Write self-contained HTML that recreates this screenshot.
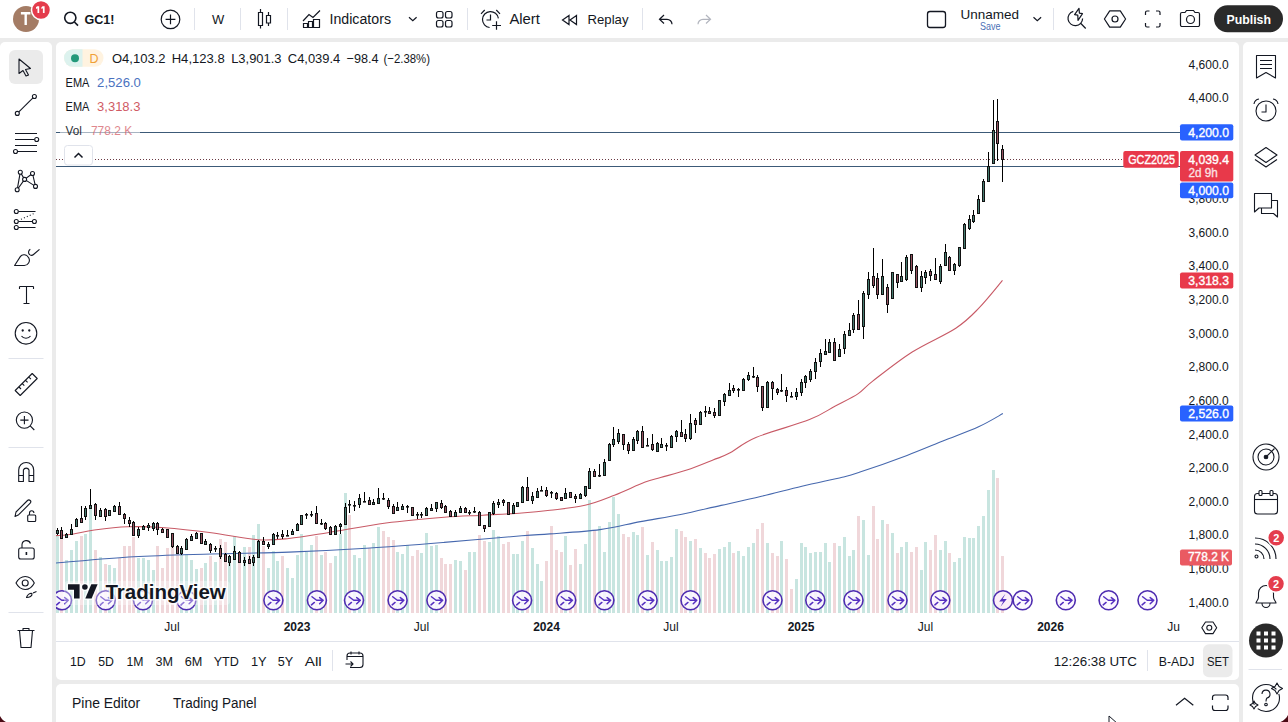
<!DOCTYPE html>
<html><head><meta charset="utf-8">
<style>
html,body{margin:0;padding:0;width:1288px;height:722px;overflow:hidden;background:#ebebeb;}
svg{display:block;font-family:"Liberation Sans",sans-serif;}
</style></head>
<body>
<svg width="1288" height="722" viewBox="0 0 1288 722">
<!-- panels -->
<rect x="0" y="0" width="1288" height="38" fill="#fff"/>
<rect x="0" y="42" width="52" height="690" rx="5" fill="#fff"/>
<rect x="56" y="42" width="1183" height="638" rx="5" fill="#fff"/>
<rect x="1243" y="42" width="55" height="690" rx="5" fill="#fff"/>
<rect x="56" y="684" width="1183" height="48" rx="5" fill="#fff"/>

<!-- TOP BAR -->
<g fill="none" stroke="#131722" stroke-width="1.2">
 <circle cx="26" cy="19" r="13" fill="#a47c65" stroke="none"/>
 <path d="M20.9,12.1 H30.4 V14.5 H26.9 V25 H24.5 V14.5 H20.9 Z" fill="#fff" stroke="none"/>
 <circle cx="41" cy="10" r="9.5" fill="#e43c4c" stroke="#fff" stroke-width="1.5"/>
 <path d="M37.2,6.3 H39.2 V13 H37.5 V8.3 L36,9 V7.3 Z M42.6,6.3 H44.6 V13 H42.9 V8.3 L41.4,9 V7.3 Z" fill="#fff" stroke="none"/>
 <circle cx="70.3" cy="17.8" r="5.6" stroke-width="1.6"/>
 <path d="M74.4,22 L78,25.6" stroke-width="1.6"/>
 <text x="84.5" y="23.6" font-size="13.5" font-weight="700" fill="#131722" stroke="none" textLength="30" lengthAdjust="spacingAndGlyphs">GC1!</text>
 <circle cx="170.5" cy="19.4" r="9.3"/>
 <path d="M170.5,14.5 V24.3 M165.6,19.4 H175.4"/>
 <text x="212" y="23.5" font-size="13" fill="#131722" stroke="none">W</text>
 <path d="M258.5,12.5 h4 v13 h-4 z M260.5,9 v3.5 M260.5,25.5 v3" />
 <path d="M266.5,15.5 h4 v7.5 h-4 z M268.5,12 v3.5 M268.5,23 v3" />
 <path d="M303,21 L309,14.5 L313,17.5 L320,10.5 M303,27.5 h17 M303.5,27.5 v-4 h4 v4 M308.5,27.5 v-6 h4 v6 M313.5,27.5 v-8 h6 v8"/>
 <text x="329.5" y="24" font-size="14" fill="#131722" stroke="none" textLength="61.5" lengthAdjust="spacingAndGlyphs">Indicators</text>
 <path d="M409,17.2 L412.8,20.6 L416.6,17.2"/>
 <rect x="436.5" y="11.5" width="6.5" height="6.5" rx="2"/>
 <rect x="445.5" y="11.5" width="6.5" height="6.5" rx="2"/>
 <rect x="436.5" y="20.5" width="6.5" height="6.5" rx="2"/>
 <rect x="445.5" y="20.5" width="6.5" height="6.5" rx="2"/>
 <path d="M498.4,18.3 A8,8 0 1 0 489.6,27.5 M490.5,14.5 V20 H486.5 M481,13.8 L484.7,10 M496.3,10 L500,13.8 M496.5,21.2 V29.8 M492.2,25.5 H501"/>
 <text x="509.4" y="24.3" font-size="14" fill="#131722" stroke="none" textLength="30.5" lengthAdjust="spacingAndGlyphs">Alert</text>
 <path d="M569,15.5 L562.5,20 L569,24.5 Z M576.5,15.5 L570,20 L576.5,24.5 Z"/>
 <text x="587.5" y="24.3" font-size="13.2" fill="#131722" stroke="none" textLength="41" lengthAdjust="spacingAndGlyphs">Replay</text>
 <path d="M664,15 L659.5,19.3 L664,23.5 M659.5,19.3 H667 A5,5 0 0 1 672,24.3" />
 <path d="M706,15 L710.5,19.3 L706,23.5 M710.5,19.3 H703 A5,5 0 0 0 698,24.3" stroke="#b2b5be"/>
 <rect x="927.5" y="11.5" width="18" height="16" rx="2.5" stroke-width="1.3"/>
 <text x="960.5" y="19" font-size="13.5" fill="#131722" stroke="none" textLength="58.5" lengthAdjust="spacingAndGlyphs">Unnamed</text>
 <text x="980" y="29.8" font-size="10.5" fill="#4a6fb5" stroke="none" textLength="20.5" lengthAdjust="spacingAndGlyphs">Save</text>
 <path d="M1033.5,17.2 L1037.3,20.6 L1041.1,17.2"/>
 <path d="M1073.3,11.3 A7.3,7.3 0 1 0 1082.6,18.4 M1080.9,23.5 L1085.7,28.5 M1079,8.3 L1074.6,14.6 L1077.8,15.2 L1078,20.3 L1082.5,13.7 L1079.4,13.1 Z" stroke-linejoin="round"/>
 <path d="M1109.7,10.8 h10.6 l5.3,8.2 l-5.3,8.2 h-10.6 l-5.3,-8.2 z" stroke-linejoin="round"/>
 <circle cx="1115" cy="19" r="3"/>
 <path d="M1145.5,15 v-2.5 a1.5,1.5 0 0 1 1.5,-1.5 h2.5 M1156,11 h2.5 a1.5,1.5 0 0 1 1.5,1.5 v2.5 M1160,23 v2.5 a1.5,1.5 0 0 1 -1.5,1.5 h-2.5 M1149.5,27 h-2.5 a1.5,1.5 0 0 1 -1.5,-1.5 v-2.5"/>
 <path d="M1180.5,14 a1.5,1.5 0 0 1 1.5,-1.5 h3 l1.5,-2 h7 l1.5,2 h3 a1.5,1.5 0 0 1 1.5,1.5 v11 a1.5,1.5 0 0 1 -1.5,1.5 h-16 a1.5,1.5 0 0 1 -1.5,-1.5 z"/>
 <circle cx="1190.5" cy="19.5" r="4"/>
 <rect x="1214" y="5.2" width="69" height="27" rx="13.5" fill="#2a2a2a" stroke="none"/>
 <text x="1226.5" y="24" font-size="13.5" font-weight="700" fill="#fff" stroke="none" textLength="44.5" lengthAdjust="spacingAndGlyphs">Publish</text>
</g>
<g stroke="#e0e3eb" stroke-width="1">
 <path d="M194.5,8 V30 M240.5,8 V30 M287.5,8 V30 M467.5,8 V30 M642.5,8 V30 M1053.5,8 V30"/>
</g>

<!-- LEFT TOOLBAR -->
<rect x="9" y="50" width="34" height="34" rx="6" fill="#ebebeb"/>
<g fill="none" stroke="#131722" stroke-width="1.1" stroke-linejoin="round">
 <path d="M19,59 L30.5,68.5 L25.5,69.5 L28.5,75 L26,76 L23,70.5 L19,73.5 Z"/>
 <path d="M18.6,112.2 L33.2,97.7"/><circle cx="17.3" cy="113.4" r="2" fill="#fff"/><circle cx="34.4" cy="96.5" r="2" fill="#fff"/>
 <path d="M15,133.5 H37 M15,139.5 H34.5 M15,145.5 H37 M17.5,151.5 H37"/><circle cx="36.7" cy="139.5" r="2" fill="#fff"/><circle cx="15.5" cy="151.5" r="2" fill="#fff"/>
 <path d="M17.2,189.7 L20.3,172.2 L24.6,179.4 L32.5,173.5 L35.5,186.4 L24.6,179.4 L17.2,189.7"/>
 <circle cx="20.3" cy="172.2" r="2" fill="#fff"/><circle cx="32.5" cy="173.5" r="2" fill="#fff"/><circle cx="24.6" cy="179.4" r="2" fill="#fff"/><circle cx="17.2" cy="189.7" r="2" fill="#fff"/><circle cx="35.5" cy="186.4" r="2" fill="#fff"/>
 <path d="M18.5,211.5 H35.5 M18.5,221.5 H32.5 M18.5,227.5 H35.5"/>
 <path d="M21,219.3 L34,213.5" stroke-dasharray="1,2.2"/>
 <circle cx="16.3" cy="211.5" r="2" fill="#fff"/><circle cx="16.3" cy="221.5" r="2" fill="#fff"/><circle cx="34.4" cy="221.5" r="2" fill="#fff"/><circle cx="16.3" cy="227.5" r="2" fill="#fff"/>
 <path d="M14.6,265.5 L20.3,256.6 C21.3,255 23,254.6 24.5,254.8 C28,255.3 30.8,259.5 28.6,263 C27.6,264.7 26,265.5 24.3,265.5 Z M30.3,249.3 C28.3,250.5 28,253 29.5,254.5 C30.5,255.6 32.3,255.7 33.5,254.5 L39.5,249.3"/>
 <path d="M19.5,286.5 H33.5 M19.5,286.5 V289 M33.5,286.5 V289 M26.5,286.5 V303.5 M23.5,303.5 H29.5"/>
 <circle cx="26" cy="333.3" r="10.8"/>
 <path d="M21.5,336 C23.5,339 28.5,339 30.5,336"/><circle cx="22.7" cy="330.5" r="0.6" fill="#131722"/><circle cx="29.3" cy="330.5" r="0.6" fill="#131722"/>
 <path d="M15.2,390.5 L32.2,373.5 L37.2,378.5 L20.2,395.5 Z M19,387 l2,2 M22.3,383.7 l2,2 M25.6,380.4 l2,2 M28.9,377.1 l2,2"/>
 <circle cx="24.4" cy="420.1" r="8.1"/><path d="M30.2,425.9 L34.3,430 M24.4,416 V424.2 M20.3,420.1 H28.5"/>
 <path d="M18.7,481.5 V470 A7.5,7.5 0 0 1 33.7,470 V481.5 H29 V470 A3,3 0 0 0 23.4,470 V481.5 Z M18.7,475.5 H23.4 M29,475.5 H33.7"/>
 <path d="M16,512 L27.5,500.5 A1.8,1.8 0 0 1 30.2,503.2 L18.7,514.7 L15,516.5 Z"/>
 <rect x="27.7" y="515" width="8" height="6.5" rx="1"/><path d="M29.5,515 V513 A2.2,2.2 0 0 1 33.9,513"/>
 <rect x="18.7" y="548" width="15.5" height="11" rx="2"/><path d="M22,548 V544.5 A4.4,4.4 0 0 1 30.5,543.5"/><path d="M26.4,552 V555" stroke-width="1.6"/>
 <path d="M16,583 C19,577.5 23,576.5 25.2,576.5 C27.5,576.5 31.5,577.5 34.3,583 C31.5,588.5 27.5,589.5 25.2,589.5 C23,589.5 19,588.5 16,583 Z"/><circle cx="25.2" cy="583" r="3"/>
 <path d="M26.5,597.5 C27.5,594.5 30,593 32,593.5 C32.5,596 29.5,597.5 26.5,597.5 Z M33,593 L36.5,591.5"/>
 <path d="M17.5,630.5 H34.5 M23,630.5 V628.5 H29 V630.5 M19.5,630.5 L21,647.5 H31 L32.5,630.5"/>
</g>
<g stroke="#e0e3eb"><path d="M8.5,358.5 H43.5 M8.5,447.5 H43.5 M8.5,612.5 H43.5"/></g>

<!-- RIGHT TOOLBAR -->
<g fill="none" stroke="#131722" stroke-width="1.1" stroke-linejoin="round">
 <path d="M1256.5,55.5 H1275.5 V78 L1266,72.5 L1256.5,78 Z M1260,60.5 H1272 M1260,64.5 H1272 M1260,68.5 H1272"/>
 <circle cx="1266" cy="111" r="10"/><path d="M1266,104.5 V112 H1261.5 M1254,104 A6,6 0 0 1 1259,99 M1273,99 A6,6 0 0 1 1278,104"/>
 <path d="M1266,147.5 L1277,155 L1266,162.5 L1255,155 Z M1255,159.5 L1266,167 L1277,159.5"/>
 <path d="M1254.5,193.5 H1271.5 V208 H1259 L1254.5,212 Z M1271.5,200.5 H1277.5 V217 L1273.5,213.5 H1261.5 V208"/>
 <circle cx="1266" cy="457" r="13"/><circle cx="1266" cy="457" r="8"/><circle cx="1266" cy="457" r="1.8" fill="#131722"/><path d="M1266,457 L1274.5,448.5"/>
 <rect x="1254.5" y="493.5" width="23" height="20.5" rx="3"/><path d="M1254.5,499.5 H1277.5"/><rect x="1259" y="490.5" width="3" height="5" rx="1" fill="#fff"/><rect x="1270" y="490.5" width="3" height="5" rx="1" fill="#fff"/>
 <circle cx="1256.5" cy="556.5" r="1.5"/><path d="M1255,550 A9,9 0 0 1 1264,559 M1255,544 A15,15 0 0 1 1270,559 M1255,538 A21,21 0 0 1 1276,559"/>
 <path d="M1256,603 H1276 C1276,601.5 1273.5,600 1273.5,597 V593 A7.5,7.5 0 0 0 1258.5,593 V597 C1258.5,600 1256,601.5 1256,603 Z M1262,603.5 A4,4 0 0 0 1270,603.5"/>
 <circle cx="1266" cy="698" r="13.5" stroke-dasharray="30,5,40,5,20"/>
 <path d="M1262,694 A4,4 0 1 1 1267,698 C1266,699 1266,700 1266,701.5"/><circle cx="1266" cy="704.5" r="1.3"/>
 <path d="M1277,683 l2,3.5 l3.5,2 l-3.5,2 l-2,3.5 l-2,-3.5 l-3.5,-2 l3.5,-2 z M1254,701 l1.5,2.5 l2.5,1.5 l-2.5,1.5 l-1.5,2.5 l-1.5,-2.5 l-2.5,-1.5 l2.5,-1.5 z"/>
</g>
<g fill="#e43c4c" stroke="#fff" stroke-width="1.5"><circle cx="1276.2" cy="537.7" r="8.5"/><circle cx="1276" cy="583.7" r="8.5"/></g>
<g fill="#fff" font-size="11" font-weight="700" text-anchor="middle"><text x="1276.2" y="541.7">2</text><text x="1276" y="587.7">2</text></g>
<circle cx="1266" cy="640.5" r="17" fill="#2a2a2a"/>
<g fill="#fff">
 <rect x="1256.5" y="631.5" width="4" height="4"/><rect x="1264" y="631.5" width="4" height="4"/><rect x="1271.5" y="631.5" width="4" height="4"/>
 <rect x="1256.5" y="638.5" width="4" height="4"/><rect x="1264" y="638.5" width="4" height="4"/><rect x="1271.5" y="638.5" width="4" height="4"/>
 <rect x="1256.5" y="645.5" width="4" height="4"/><rect x="1264" y="645.5" width="4" height="4"/><rect x="1271.5" y="645.5" width="4" height="4"/>
</g>
<path d="M1248.5,669.5 H1282" stroke="#e0e3eb"/>
<path d="M1288,715 C1286.5,718 1284,720.5 1280.5,722 H1288 Z" fill="#4a0a14"/>
<path d="M0,716 C1.5,719 3.5,721 6,722 H0 Z" fill="#4a0a14"/>

<!-- CHART -->
<defs><clipPath id="cp"><rect x="56" y="42" width="1124" height="572"/></clipPath></defs>
<g clip-path="url(#cp)">
<rect x="56" y="536" width="3" height="77" fill="#c8e5e0"/>
<rect x="60" y="538" width="3" height="75" fill="#f0d7da"/>
<rect x="65" y="560" width="3" height="53" fill="#c8e5e0"/>
<rect x="70" y="550" width="3" height="63" fill="#c8e5e0"/>
<rect x="75" y="541" width="3" height="72" fill="#c8e5e0"/>
<rect x="80" y="536" width="3" height="77" fill="#f0d7da"/>
<rect x="84" y="534" width="3" height="79" fill="#c8e5e0"/>
<rect x="89" y="509" width="3" height="104" fill="#c8e5e0"/>
<rect x="94" y="550" width="3" height="63" fill="#f0d7da"/>
<rect x="99" y="557" width="3" height="56" fill="#c8e5e0"/>
<rect x="104" y="564" width="3" height="49" fill="#f0d7da"/>
<rect x="108" y="565" width="3" height="48" fill="#c8e5e0"/>
<rect x="113" y="568" width="3" height="45" fill="#c8e5e0"/>
<rect x="118" y="558" width="3" height="55" fill="#f0d7da"/>
<rect x="123" y="546" width="3" height="67" fill="#f0d7da"/>
<rect x="128" y="546" width="3" height="67" fill="#f0d7da"/>
<rect x="132" y="537" width="3" height="76" fill="#f0d7da"/>
<rect x="137" y="558" width="3" height="55" fill="#c8e5e0"/>
<rect x="142" y="558" width="3" height="55" fill="#c8e5e0"/>
<rect x="147" y="560" width="3" height="53" fill="#c8e5e0"/>
<rect x="152" y="570" width="3" height="43" fill="#c8e5e0"/>
<rect x="156" y="546" width="3" height="67" fill="#f0d7da"/>
<rect x="161" y="568" width="3" height="45" fill="#f0d7da"/>
<rect x="166" y="548" width="3" height="65" fill="#f0d7da"/>
<rect x="171" y="533" width="3" height="80" fill="#f0d7da"/>
<rect x="176" y="554" width="3" height="59" fill="#f0d7da"/>
<rect x="180" y="554" width="3" height="59" fill="#c8e5e0"/>
<rect x="185" y="554" width="3" height="59" fill="#c8e5e0"/>
<rect x="190" y="560" width="3" height="53" fill="#c8e5e0"/>
<rect x="195" y="569" width="3" height="44" fill="#c8e5e0"/>
<rect x="200" y="568" width="3" height="45" fill="#f0d7da"/>
<rect x="204" y="563" width="3" height="50" fill="#c8e5e0"/>
<rect x="209" y="556" width="3" height="57" fill="#f0d7da"/>
<rect x="214" y="562" width="3" height="51" fill="#c8e5e0"/>
<rect x="219" y="539" width="3" height="74" fill="#f0d7da"/>
<rect x="224" y="542" width="3" height="71" fill="#f0d7da"/>
<rect x="228" y="562" width="3" height="51" fill="#c8e5e0"/>
<rect x="233" y="536" width="3" height="77" fill="#c8e5e0"/>
<rect x="238" y="552" width="3" height="61" fill="#f0d7da"/>
<rect x="243" y="547" width="3" height="66" fill="#c8e5e0"/>
<rect x="248" y="547" width="3" height="66" fill="#f0d7da"/>
<rect x="252" y="535" width="3" height="78" fill="#c8e5e0"/>
<rect x="257" y="524" width="3" height="89" fill="#c8e5e0"/>
<rect x="262" y="546" width="3" height="67" fill="#f0d7da"/>
<rect x="267" y="568" width="3" height="45" fill="#c8e5e0"/>
<rect x="272" y="551" width="3" height="62" fill="#c8e5e0"/>
<rect x="276" y="561" width="3" height="52" fill="#c8e5e0"/>
<rect x="281" y="556" width="3" height="57" fill="#f0d7da"/>
<rect x="286" y="568" width="3" height="45" fill="#c8e5e0"/>
<rect x="291" y="578" width="3" height="35" fill="#c8e5e0"/>
<rect x="296" y="555" width="3" height="58" fill="#c8e5e0"/>
<rect x="300" y="534" width="3" height="79" fill="#c8e5e0"/>
<rect x="305" y="552" width="3" height="61" fill="#c8e5e0"/>
<rect x="310" y="545" width="3" height="68" fill="#c8e5e0"/>
<rect x="315" y="536" width="3" height="77" fill="#f0d7da"/>
<rect x="320" y="555" width="3" height="58" fill="#c8e5e0"/>
<rect x="324" y="552" width="3" height="61" fill="#f0d7da"/>
<rect x="329" y="563" width="3" height="50" fill="#f0d7da"/>
<rect x="334" y="556" width="3" height="57" fill="#c8e5e0"/>
<rect x="339" y="534" width="3" height="79" fill="#c8e5e0"/>
<rect x="344" y="493" width="3" height="120" fill="#c8e5e0"/>
<rect x="348" y="515" width="3" height="98" fill="#f0d7da"/>
<rect x="353" y="555" width="3" height="58" fill="#c8e5e0"/>
<rect x="358" y="558" width="3" height="55" fill="#c8e5e0"/>
<rect x="363" y="545" width="3" height="68" fill="#c8e5e0"/>
<rect x="368" y="548" width="3" height="65" fill="#f0d7da"/>
<rect x="372" y="543" width="3" height="70" fill="#c8e5e0"/>
<rect x="377" y="527" width="3" height="86" fill="#c8e5e0"/>
<rect x="382" y="531" width="3" height="82" fill="#f0d7da"/>
<rect x="387" y="537" width="3" height="76" fill="#f0d7da"/>
<rect x="392" y="540" width="3" height="73" fill="#f0d7da"/>
<rect x="396" y="552" width="3" height="61" fill="#c8e5e0"/>
<rect x="401" y="554" width="3" height="59" fill="#c8e5e0"/>
<rect x="406" y="545" width="3" height="68" fill="#c8e5e0"/>
<rect x="411" y="556" width="3" height="57" fill="#f0d7da"/>
<rect x="416" y="550" width="3" height="63" fill="#f0d7da"/>
<rect x="420" y="553" width="3" height="60" fill="#c8e5e0"/>
<rect x="425" y="533" width="3" height="80" fill="#c8e5e0"/>
<rect x="430" y="546" width="3" height="67" fill="#c8e5e0"/>
<rect x="435" y="545" width="3" height="68" fill="#c8e5e0"/>
<rect x="440" y="558" width="3" height="55" fill="#f0d7da"/>
<rect x="444" y="564" width="3" height="49" fill="#f0d7da"/>
<rect x="449" y="564" width="3" height="49" fill="#f0d7da"/>
<rect x="454" y="560" width="3" height="53" fill="#c8e5e0"/>
<rect x="459" y="561" width="3" height="52" fill="#c8e5e0"/>
<rect x="464" y="570" width="3" height="43" fill="#f0d7da"/>
<rect x="468" y="552" width="3" height="61" fill="#c8e5e0"/>
<rect x="473" y="552" width="3" height="61" fill="#c8e5e0"/>
<rect x="478" y="535" width="3" height="78" fill="#f0d7da"/>
<rect x="483" y="541" width="3" height="72" fill="#f0d7da"/>
<rect x="488" y="542" width="3" height="71" fill="#c8e5e0"/>
<rect x="492" y="530" width="3" height="83" fill="#c8e5e0"/>
<rect x="497" y="536" width="3" height="77" fill="#c8e5e0"/>
<rect x="502" y="544" width="3" height="69" fill="#f0d7da"/>
<rect x="507" y="542" width="3" height="71" fill="#f0d7da"/>
<rect x="512" y="554" width="3" height="59" fill="#c8e5e0"/>
<rect x="516" y="554" width="3" height="59" fill="#c8e5e0"/>
<rect x="521" y="541" width="3" height="72" fill="#c8e5e0"/>
<rect x="526" y="531" width="3" height="82" fill="#f0d7da"/>
<rect x="531" y="548" width="3" height="65" fill="#c8e5e0"/>
<rect x="536" y="564" width="3" height="49" fill="#c8e5e0"/>
<rect x="540" y="581" width="3" height="32" fill="#c8e5e0"/>
<rect x="545" y="561" width="3" height="52" fill="#f0d7da"/>
<rect x="550" y="526" width="3" height="87" fill="#f0d7da"/>
<rect x="555" y="550" width="3" height="63" fill="#f0d7da"/>
<rect x="560" y="552" width="3" height="61" fill="#f0d7da"/>
<rect x="564" y="536" width="3" height="77" fill="#c8e5e0"/>
<rect x="569" y="565" width="3" height="48" fill="#f0d7da"/>
<rect x="574" y="549" width="3" height="64" fill="#f0d7da"/>
<rect x="579" y="564" width="3" height="49" fill="#c8e5e0"/>
<rect x="584" y="544" width="3" height="69" fill="#c8e5e0"/>
<rect x="588" y="500" width="3" height="113" fill="#c8e5e0"/>
<rect x="593" y="530" width="3" height="83" fill="#f0d7da"/>
<rect x="598" y="526" width="3" height="87" fill="#c8e5e0"/>
<rect x="603" y="552" width="3" height="61" fill="#c8e5e0"/>
<rect x="608" y="522" width="3" height="91" fill="#c8e5e0"/>
<rect x="612" y="497" width="3" height="116" fill="#c8e5e0"/>
<rect x="617" y="514" width="3" height="99" fill="#c8e5e0"/>
<rect x="622" y="534" width="3" height="79" fill="#f0d7da"/>
<rect x="627" y="537" width="3" height="76" fill="#f0d7da"/>
<rect x="632" y="532" width="3" height="81" fill="#c8e5e0"/>
<rect x="636" y="535" width="3" height="78" fill="#c8e5e0"/>
<rect x="641" y="527" width="3" height="86" fill="#f0d7da"/>
<rect x="646" y="555" width="3" height="58" fill="#c8e5e0"/>
<rect x="651" y="542" width="3" height="71" fill="#f0d7da"/>
<rect x="656" y="550" width="3" height="63" fill="#c8e5e0"/>
<rect x="660" y="561" width="3" height="52" fill="#c8e5e0"/>
<rect x="665" y="561" width="3" height="52" fill="#c8e5e0"/>
<rect x="670" y="557" width="3" height="56" fill="#c8e5e0"/>
<rect x="675" y="529" width="3" height="84" fill="#c8e5e0"/>
<rect x="680" y="531" width="3" height="82" fill="#f0d7da"/>
<rect x="684" y="537" width="3" height="76" fill="#f0d7da"/>
<rect x="689" y="541" width="3" height="72" fill="#c8e5e0"/>
<rect x="694" y="539" width="3" height="74" fill="#f0d7da"/>
<rect x="699" y="548" width="3" height="65" fill="#c8e5e0"/>
<rect x="704" y="553" width="3" height="60" fill="#f0d7da"/>
<rect x="708" y="558" width="3" height="55" fill="#f0d7da"/>
<rect x="713" y="554" width="3" height="59" fill="#f0d7da"/>
<rect x="718" y="549" width="3" height="64" fill="#c8e5e0"/>
<rect x="723" y="547" width="3" height="66" fill="#c8e5e0"/>
<rect x="728" y="542" width="3" height="71" fill="#c8e5e0"/>
<rect x="732" y="553" width="3" height="60" fill="#f0d7da"/>
<rect x="737" y="551" width="3" height="62" fill="#c8e5e0"/>
<rect x="742" y="556" width="3" height="57" fill="#c8e5e0"/>
<rect x="747" y="547" width="3" height="66" fill="#c8e5e0"/>
<rect x="752" y="543" width="3" height="70" fill="#c8e5e0"/>
<rect x="756" y="529" width="3" height="84" fill="#f0d7da"/>
<rect x="761" y="523" width="3" height="90" fill="#f0d7da"/>
<rect x="766" y="543" width="3" height="70" fill="#c8e5e0"/>
<rect x="771" y="553" width="3" height="60" fill="#f0d7da"/>
<rect x="776" y="556" width="3" height="57" fill="#f0d7da"/>
<rect x="780" y="541" width="3" height="72" fill="#c8e5e0"/>
<rect x="785" y="559" width="3" height="54" fill="#f0d7da"/>
<rect x="790" y="589" width="3" height="24" fill="#f0d7da"/>
<rect x="795" y="579" width="3" height="34" fill="#c8e5e0"/>
<rect x="800" y="543" width="3" height="70" fill="#c8e5e0"/>
<rect x="804" y="547" width="3" height="66" fill="#c8e5e0"/>
<rect x="809" y="553" width="3" height="60" fill="#c8e5e0"/>
<rect x="814" y="552" width="3" height="61" fill="#c8e5e0"/>
<rect x="819" y="552" width="3" height="61" fill="#c8e5e0"/>
<rect x="824" y="543" width="3" height="70" fill="#c8e5e0"/>
<rect x="828" y="562" width="3" height="51" fill="#c8e5e0"/>
<rect x="833" y="543" width="3" height="70" fill="#f0d7da"/>
<rect x="838" y="546" width="3" height="67" fill="#c8e5e0"/>
<rect x="843" y="537" width="3" height="76" fill="#c8e5e0"/>
<rect x="848" y="556" width="3" height="57" fill="#c8e5e0"/>
<rect x="852" y="550" width="3" height="63" fill="#c8e5e0"/>
<rect x="857" y="516" width="3" height="97" fill="#f0d7da"/>
<rect x="862" y="520" width="3" height="93" fill="#c8e5e0"/>
<rect x="867" y="555" width="3" height="58" fill="#c8e5e0"/>
<rect x="872" y="506" width="3" height="107" fill="#f0d7da"/>
<rect x="876" y="539" width="3" height="74" fill="#f0d7da"/>
<rect x="881" y="520" width="3" height="93" fill="#c8e5e0"/>
<rect x="886" y="524" width="3" height="89" fill="#f0d7da"/>
<rect x="891" y="533" width="3" height="80" fill="#c8e5e0"/>
<rect x="896" y="553" width="3" height="60" fill="#f0d7da"/>
<rect x="900" y="547" width="3" height="66" fill="#c8e5e0"/>
<rect x="905" y="542" width="3" height="71" fill="#c8e5e0"/>
<rect x="910" y="552" width="3" height="61" fill="#f0d7da"/>
<rect x="915" y="547" width="3" height="66" fill="#f0d7da"/>
<rect x="920" y="570" width="3" height="43" fill="#c8e5e0"/>
<rect x="924" y="542" width="3" height="71" fill="#c8e5e0"/>
<rect x="929" y="550" width="3" height="63" fill="#f0d7da"/>
<rect x="934" y="535" width="3" height="78" fill="#f0d7da"/>
<rect x="939" y="550" width="3" height="63" fill="#c8e5e0"/>
<rect x="944" y="541" width="3" height="72" fill="#c8e5e0"/>
<rect x="948" y="553" width="3" height="60" fill="#f0d7da"/>
<rect x="953" y="562" width="3" height="51" fill="#c8e5e0"/>
<rect x="958" y="558" width="3" height="55" fill="#c8e5e0"/>
<rect x="963" y="537" width="3" height="76" fill="#c8e5e0"/>
<rect x="968" y="538" width="3" height="75" fill="#c8e5e0"/>
<rect x="972" y="538" width="3" height="75" fill="#c8e5e0"/>
<rect x="977" y="526" width="3" height="87" fill="#c8e5e0"/>
<rect x="982" y="516" width="3" height="97" fill="#c8e5e0"/>
<rect x="987" y="490" width="3" height="123" fill="#c8e5e0"/>
<rect x="992" y="470" width="3" height="143" fill="#c8e5e0"/>
<rect x="996" y="478" width="3" height="135" fill="#f0d7da"/>
<rect x="1001" y="556" width="3" height="57" fill="#f0d7da"/>
<line x1="56" y1="132.5" x2="1180" y2="132.5" stroke="#3c5a78" stroke-width="1"/>
<line x1="56" y1="166.5" x2="1180" y2="166.5" stroke="#3c5a78" stroke-width="1"/>
<line x1="56" y1="159.5" x2="1123" y2="159.5" stroke="#6b3a44" stroke-width="1" stroke-dasharray="1,2"/>
<path d="M56.0,535.6 C58.7,535.4 65.8,535.2 72.2,534.3 C78.6,533.4 85.1,531.2 94.3,530.0 C103.5,528.8 115.9,527.2 127.6,526.8 C139.3,526.4 150.8,526.7 164.7,527.7 C178.6,528.7 195.8,530.7 211.3,532.7 C226.8,534.7 245.0,538.7 257.9,539.7 C270.8,540.7 277.3,539.7 288.9,538.5 C300.5,537.3 311.5,535.3 327.7,532.7 C343.9,530.1 366.6,525.6 386.0,523.0 C405.4,520.4 428.0,518.5 444.2,517.2 C460.4,515.9 470.1,515.9 483.0,515.2 C495.9,514.5 510.6,513.8 521.8,513.0 C533.0,512.2 539.5,511.6 550.0,510.3 C560.5,509.0 574.3,507.8 585.0,505.3 C595.7,502.8 604.5,499.0 614.4,495.2 C624.3,491.4 636.8,485.2 644.5,482.3 C652.2,479.4 653.6,479.5 660.6,477.5 C667.6,475.5 678.1,473.0 686.8,470.1 C695.5,467.2 706.0,462.8 713.0,460.0 C720.0,457.2 721.5,457.4 728.6,453.6 C735.8,449.9 742.4,443.2 755.9,437.5 C769.4,431.8 796.3,424.9 809.5,419.6 C822.7,414.4 827.2,410.3 835.3,406.0 C843.4,401.7 852.0,397.8 858.2,393.6 C864.4,389.5 863.7,388.0 872.7,381.1 C881.7,374.2 898.4,360.8 912.2,352.0 C926.1,343.2 944.7,335.5 955.8,328.2 C966.9,320.9 970.8,316.4 978.6,308.4 C986.4,300.4 998.5,285.1 1002.5,280.4" fill="none" stroke="#c85a66" stroke-width="1.1"/>
<path d="M56.0,563.0 C68.9,562.0 107.7,558.3 133.6,556.8 C159.5,555.3 185.4,554.8 211.3,554.0 C237.2,553.2 263.0,553.1 288.9,552.1 C314.8,551.1 340.7,549.8 366.6,548.2 C392.5,546.6 418.3,544.5 444.2,542.4 C470.1,540.3 504.2,537.2 521.8,535.8 C539.4,534.4 537.0,534.9 550.0,533.9 C563.0,532.9 584.9,531.6 600.0,529.6 C615.1,527.6 626.9,524.1 640.4,521.6 C653.9,519.1 667.2,517.2 680.7,514.5 C694.2,511.8 707.6,508.4 721.1,505.4 C734.6,502.4 748.0,499.5 761.5,496.3 C775.0,493.1 788.4,489.4 801.9,486.2 C815.4,483.0 832.5,479.5 842.2,477.2 C851.9,474.9 849.2,475.7 860.0,472.1 C870.8,468.5 893.2,460.6 907.0,455.4 C920.8,450.2 931.0,445.8 942.9,441.0 C954.8,436.2 968.6,431.4 978.6,426.8 C988.6,422.2 998.9,415.8 1002.9,413.6" fill="none" stroke="#4668ae" stroke-width="1.1"/>
<rect x="57" y="528" width="1" height="7" fill="#000"/>
<rect x="56" y="530" width="3" height="4" fill="#111"/>
<rect x="57" y="531" width="1" height="2" fill="#457a6e"/>
<rect x="61" y="527" width="1" height="11" fill="#000"/>
<rect x="60" y="530" width="3" height="9" fill="#111"/>
<rect x="61" y="531" width="1" height="7" fill="#955060"/>
<rect x="66" y="533" width="1" height="5" fill="#000"/>
<rect x="65" y="534" width="3" height="4" fill="#111"/>
<rect x="66" y="535" width="1" height="2" fill="#457a6e"/>
<rect x="71" y="524" width="1" height="11" fill="#000"/>
<rect x="70" y="529" width="3" height="6" fill="#111"/>
<rect x="71" y="530" width="1" height="4" fill="#457a6e"/>
<rect x="76" y="518" width="1" height="9" fill="#000"/>
<rect x="75" y="519" width="3" height="8" fill="#111"/>
<rect x="76" y="520" width="1" height="6" fill="#457a6e"/>
<rect x="81" y="506" width="1" height="17" fill="#000"/>
<rect x="80" y="518" width="3" height="5" fill="#111"/>
<rect x="81" y="519" width="1" height="3" fill="#955060"/>
<rect x="85" y="506" width="1" height="14" fill="#000"/>
<rect x="84" y="508" width="3" height="9" fill="#111"/>
<rect x="85" y="509" width="1" height="7" fill="#457a6e"/>
<rect x="90" y="489" width="1" height="19" fill="#000"/>
<rect x="89" y="505" width="3" height="4" fill="#111"/>
<rect x="90" y="506" width="1" height="2" fill="#457a6e"/>
<rect x="95" y="503" width="1" height="17" fill="#000"/>
<rect x="94" y="504" width="3" height="12" fill="#111"/>
<rect x="95" y="505" width="1" height="10" fill="#955060"/>
<rect x="100" y="508" width="1" height="8" fill="#000"/>
<rect x="99" y="510" width="3" height="7" fill="#111"/>
<rect x="100" y="511" width="1" height="5" fill="#457a6e"/>
<rect x="105" y="508" width="1" height="13" fill="#000"/>
<rect x="104" y="509" width="3" height="8" fill="#111"/>
<rect x="105" y="510" width="1" height="6" fill="#955060"/>
<rect x="109" y="510" width="1" height="6" fill="#000"/>
<rect x="108" y="510" width="3" height="6" fill="#111"/>
<rect x="109" y="511" width="1" height="4" fill="#457a6e"/>
<rect x="114" y="505" width="1" height="7" fill="#000"/>
<rect x="113" y="506" width="3" height="6" fill="#111"/>
<rect x="114" y="507" width="1" height="4" fill="#457a6e"/>
<rect x="119" y="502" width="1" height="12" fill="#000"/>
<rect x="118" y="506" width="3" height="9" fill="#111"/>
<rect x="119" y="507" width="1" height="7" fill="#955060"/>
<rect x="124" y="513" width="1" height="11" fill="#000"/>
<rect x="123" y="514" width="3" height="5" fill="#111"/>
<rect x="124" y="515" width="1" height="3" fill="#955060"/>
<rect x="129" y="517" width="1" height="10" fill="#000"/>
<rect x="128" y="520" width="3" height="4" fill="#111"/>
<rect x="129" y="521" width="1" height="2" fill="#955060"/>
<rect x="133" y="521" width="1" height="14" fill="#000"/>
<rect x="132" y="522" width="3" height="14" fill="#111"/>
<rect x="133" y="523" width="1" height="12" fill="#955060"/>
<rect x="138" y="527" width="1" height="11" fill="#000"/>
<rect x="137" y="529" width="3" height="7" fill="#111"/>
<rect x="138" y="530" width="1" height="5" fill="#457a6e"/>
<rect x="143" y="525" width="1" height="5" fill="#000"/>
<rect x="142" y="526" width="3" height="4" fill="#111"/>
<rect x="143" y="527" width="1" height="2" fill="#457a6e"/>
<rect x="148" y="523" width="1" height="8" fill="#000"/>
<rect x="147" y="525" width="3" height="3" fill="#111"/>
<rect x="148" y="526" width="1" height="1" fill="#457a6e"/>
<rect x="153" y="522" width="1" height="9" fill="#000"/>
<rect x="152" y="523" width="3" height="6" fill="#111"/>
<rect x="153" y="524" width="1" height="4" fill="#457a6e"/>
<rect x="157" y="522" width="1" height="13" fill="#000"/>
<rect x="156" y="523" width="3" height="7" fill="#111"/>
<rect x="157" y="524" width="1" height="5" fill="#955060"/>
<rect x="162" y="528" width="1" height="5" fill="#000"/>
<rect x="161" y="529" width="3" height="4" fill="#111"/>
<rect x="162" y="530" width="1" height="2" fill="#955060"/>
<rect x="167" y="529" width="1" height="9" fill="#000"/>
<rect x="166" y="529" width="3" height="9" fill="#111"/>
<rect x="167" y="530" width="1" height="7" fill="#955060"/>
<rect x="172" y="533" width="1" height="15" fill="#000"/>
<rect x="171" y="533" width="3" height="14" fill="#111"/>
<rect x="172" y="534" width="1" height="12" fill="#955060"/>
<rect x="177" y="545" width="1" height="8" fill="#000"/>
<rect x="176" y="546" width="3" height="8" fill="#111"/>
<rect x="177" y="547" width="1" height="6" fill="#955060"/>
<rect x="181" y="546" width="1" height="9" fill="#000"/>
<rect x="180" y="548" width="3" height="6" fill="#111"/>
<rect x="181" y="549" width="1" height="4" fill="#457a6e"/>
<rect x="186" y="538" width="1" height="12" fill="#000"/>
<rect x="185" y="539" width="3" height="11" fill="#111"/>
<rect x="186" y="540" width="1" height="9" fill="#457a6e"/>
<rect x="191" y="534" width="1" height="6" fill="#000"/>
<rect x="190" y="536" width="3" height="5" fill="#111"/>
<rect x="191" y="537" width="1" height="3" fill="#457a6e"/>
<rect x="196" y="532" width="1" height="6" fill="#000"/>
<rect x="195" y="533" width="3" height="6" fill="#111"/>
<rect x="196" y="534" width="1" height="4" fill="#457a6e"/>
<rect x="201" y="533" width="1" height="10" fill="#000"/>
<rect x="200" y="533" width="3" height="11" fill="#111"/>
<rect x="201" y="534" width="1" height="9" fill="#955060"/>
<rect x="205" y="539" width="1" height="6" fill="#000"/>
<rect x="204" y="541" width="3" height="4" fill="#111"/>
<rect x="205" y="542" width="1" height="2" fill="#457a6e"/>
<rect x="210" y="543" width="1" height="10" fill="#000"/>
<rect x="209" y="544" width="3" height="7" fill="#111"/>
<rect x="210" y="545" width="1" height="5" fill="#955060"/>
<rect x="215" y="546" width="1" height="6" fill="#000"/>
<rect x="214" y="548" width="3" height="1.6" fill="#111"/>
<rect x="220" y="545" width="1" height="14" fill="#000"/>
<rect x="219" y="548" width="3" height="9" fill="#111"/>
<rect x="220" y="549" width="1" height="7" fill="#955060"/>
<rect x="225" y="553" width="1" height="9" fill="#000"/>
<rect x="224" y="554" width="3" height="8" fill="#111"/>
<rect x="225" y="555" width="1" height="6" fill="#955060"/>
<rect x="229" y="555" width="1" height="11" fill="#000"/>
<rect x="228" y="556" width="3" height="7" fill="#111"/>
<rect x="229" y="557" width="1" height="5" fill="#457a6e"/>
<rect x="234" y="546" width="1" height="13" fill="#000"/>
<rect x="233" y="551" width="3" height="9" fill="#111"/>
<rect x="234" y="552" width="1" height="7" fill="#457a6e"/>
<rect x="239" y="551" width="1" height="11" fill="#000"/>
<rect x="238" y="552" width="3" height="11" fill="#111"/>
<rect x="239" y="553" width="1" height="9" fill="#955060"/>
<rect x="244" y="557" width="1" height="9" fill="#000"/>
<rect x="243" y="560" width="3" height="3" fill="#111"/>
<rect x="244" y="561" width="1" height="1" fill="#457a6e"/>
<rect x="249" y="556" width="1" height="7" fill="#000"/>
<rect x="248" y="559" width="3" height="5" fill="#111"/>
<rect x="249" y="560" width="1" height="3" fill="#955060"/>
<rect x="253" y="555" width="1" height="11" fill="#000"/>
<rect x="252" y="557" width="3" height="6" fill="#111"/>
<rect x="253" y="558" width="1" height="4" fill="#457a6e"/>
<rect x="258" y="540" width="1" height="18" fill="#000"/>
<rect x="257" y="541" width="3" height="17" fill="#111"/>
<rect x="258" y="542" width="1" height="15" fill="#457a6e"/>
<rect x="263" y="537" width="1" height="7" fill="#000"/>
<rect x="262" y="541" width="3" height="4" fill="#111"/>
<rect x="263" y="542" width="1" height="2" fill="#955060"/>
<rect x="268" y="542" width="1" height="7" fill="#000"/>
<rect x="267" y="544" width="3" height="3" fill="#111"/>
<rect x="268" y="545" width="1" height="1" fill="#457a6e"/>
<rect x="273" y="533" width="1" height="12" fill="#000"/>
<rect x="272" y="534" width="3" height="11" fill="#111"/>
<rect x="273" y="535" width="1" height="9" fill="#457a6e"/>
<rect x="277" y="532" width="1" height="7" fill="#000"/>
<rect x="276" y="535" width="3" height="1.6" fill="#111"/>
<rect x="282" y="530" width="1" height="9" fill="#000"/>
<rect x="281" y="534" width="3" height="3" fill="#111"/>
<rect x="282" y="535" width="1" height="1" fill="#955060"/>
<rect x="287" y="530" width="1" height="6" fill="#000"/>
<rect x="286" y="535" width="3" height="1.6" fill="#111"/>
<rect x="292" y="529" width="1" height="6" fill="#000"/>
<rect x="291" y="531" width="3" height="4" fill="#111"/>
<rect x="292" y="532" width="1" height="2" fill="#457a6e"/>
<rect x="297" y="523" width="1" height="7" fill="#000"/>
<rect x="296" y="524" width="3" height="7" fill="#111"/>
<rect x="297" y="525" width="1" height="5" fill="#457a6e"/>
<rect x="301" y="515" width="1" height="10" fill="#000"/>
<rect x="300" y="515" width="3" height="10" fill="#111"/>
<rect x="301" y="516" width="1" height="8" fill="#457a6e"/>
<rect x="306" y="513" width="1" height="6" fill="#000"/>
<rect x="305" y="514" width="3" height="1.6" fill="#111"/>
<rect x="311" y="511" width="1" height="6" fill="#000"/>
<rect x="310" y="514" width="3" height="1.6" fill="#111"/>
<rect x="316" y="506" width="1" height="18" fill="#000"/>
<rect x="315" y="513" width="3" height="11" fill="#111"/>
<rect x="316" y="514" width="1" height="9" fill="#955060"/>
<rect x="321" y="519" width="1" height="6" fill="#000"/>
<rect x="320" y="523" width="3" height="1.6" fill="#111"/>
<rect x="325" y="522" width="1" height="8" fill="#000"/>
<rect x="324" y="523" width="3" height="6" fill="#111"/>
<rect x="325" y="524" width="1" height="4" fill="#955060"/>
<rect x="330" y="526" width="1" height="8" fill="#000"/>
<rect x="329" y="527" width="3" height="8" fill="#111"/>
<rect x="330" y="528" width="1" height="6" fill="#955060"/>
<rect x="335" y="525" width="1" height="9" fill="#000"/>
<rect x="334" y="526" width="3" height="9" fill="#111"/>
<rect x="335" y="527" width="1" height="7" fill="#457a6e"/>
<rect x="340" y="523" width="1" height="11" fill="#000"/>
<rect x="339" y="524" width="3" height="3" fill="#111"/>
<rect x="340" y="525" width="1" height="1" fill="#457a6e"/>
<rect x="345" y="503" width="1" height="21" fill="#000"/>
<rect x="344" y="507" width="3" height="18" fill="#111"/>
<rect x="345" y="508" width="1" height="16" fill="#457a6e"/>
<rect x="349" y="500" width="1" height="13" fill="#000"/>
<rect x="348" y="504" width="3" height="1.6" fill="#111"/>
<rect x="354" y="501" width="1" height="10" fill="#000"/>
<rect x="353" y="505" width="3" height="1.6" fill="#111"/>
<rect x="359" y="494" width="1" height="14" fill="#000"/>
<rect x="358" y="498" width="3" height="7" fill="#111"/>
<rect x="359" y="499" width="1" height="5" fill="#457a6e"/>
<rect x="364" y="492" width="1" height="10" fill="#000"/>
<rect x="363" y="501" width="3" height="1.6" fill="#111"/>
<rect x="369" y="497" width="1" height="8" fill="#000"/>
<rect x="368" y="500" width="3" height="5" fill="#111"/>
<rect x="369" y="501" width="1" height="3" fill="#955060"/>
<rect x="373" y="499" width="1" height="5" fill="#000"/>
<rect x="372" y="502" width="3" height="3" fill="#111"/>
<rect x="373" y="503" width="1" height="1" fill="#457a6e"/>
<rect x="378" y="488" width="1" height="16" fill="#000"/>
<rect x="377" y="498" width="3" height="6" fill="#111"/>
<rect x="378" y="499" width="1" height="4" fill="#457a6e"/>
<rect x="383" y="493" width="1" height="7" fill="#000"/>
<rect x="382" y="498" width="3" height="1.6" fill="#111"/>
<rect x="388" y="498" width="1" height="11" fill="#000"/>
<rect x="387" y="500" width="3" height="7" fill="#111"/>
<rect x="388" y="501" width="1" height="5" fill="#955060"/>
<rect x="393" y="504" width="1" height="9" fill="#000"/>
<rect x="392" y="506" width="3" height="8" fill="#111"/>
<rect x="393" y="507" width="1" height="6" fill="#955060"/>
<rect x="397" y="502" width="1" height="8" fill="#000"/>
<rect x="396" y="507" width="3" height="4" fill="#111"/>
<rect x="397" y="508" width="1" height="2" fill="#457a6e"/>
<rect x="402" y="504" width="1" height="5" fill="#000"/>
<rect x="401" y="506" width="3" height="4" fill="#111"/>
<rect x="402" y="507" width="1" height="2" fill="#457a6e"/>
<rect x="407" y="505" width="1" height="8" fill="#000"/>
<rect x="406" y="506" width="3" height="1.6" fill="#111"/>
<rect x="412" y="507" width="1" height="8" fill="#000"/>
<rect x="411" y="507" width="3" height="9" fill="#111"/>
<rect x="412" y="508" width="1" height="7" fill="#955060"/>
<rect x="417" y="512" width="1" height="7" fill="#000"/>
<rect x="416" y="514" width="3" height="1.6" fill="#111"/>
<rect x="421" y="512" width="1" height="6" fill="#000"/>
<rect x="420" y="514" width="3" height="1.6" fill="#111"/>
<rect x="426" y="507" width="1" height="9" fill="#000"/>
<rect x="425" y="508" width="3" height="8" fill="#111"/>
<rect x="426" y="509" width="1" height="6" fill="#457a6e"/>
<rect x="431" y="504" width="1" height="7" fill="#000"/>
<rect x="430" y="508" width="3" height="3" fill="#111"/>
<rect x="431" y="509" width="1" height="1" fill="#457a6e"/>
<rect x="436" y="502" width="1" height="10" fill="#000"/>
<rect x="435" y="502" width="3" height="7" fill="#111"/>
<rect x="436" y="503" width="1" height="5" fill="#457a6e"/>
<rect x="441" y="500" width="1" height="9" fill="#000"/>
<rect x="440" y="503" width="3" height="5" fill="#111"/>
<rect x="441" y="504" width="1" height="3" fill="#955060"/>
<rect x="445" y="505" width="1" height="7" fill="#000"/>
<rect x="444" y="506" width="3" height="7" fill="#111"/>
<rect x="445" y="507" width="1" height="5" fill="#955060"/>
<rect x="450" y="510" width="1" height="6" fill="#000"/>
<rect x="449" y="511" width="3" height="6" fill="#111"/>
<rect x="450" y="512" width="1" height="4" fill="#955060"/>
<rect x="455" y="510" width="1" height="6" fill="#000"/>
<rect x="454" y="512" width="3" height="5" fill="#111"/>
<rect x="455" y="513" width="1" height="3" fill="#457a6e"/>
<rect x="460" y="506" width="1" height="7" fill="#000"/>
<rect x="459" y="508" width="3" height="5" fill="#111"/>
<rect x="460" y="509" width="1" height="3" fill="#457a6e"/>
<rect x="465" y="507" width="1" height="6" fill="#000"/>
<rect x="464" y="508" width="3" height="5" fill="#111"/>
<rect x="465" y="509" width="1" height="3" fill="#955060"/>
<rect x="469" y="510" width="1" height="5" fill="#000"/>
<rect x="468" y="512" width="3" height="1.6" fill="#111"/>
<rect x="474" y="507" width="1" height="6" fill="#000"/>
<rect x="473" y="511" width="3" height="1.6" fill="#111"/>
<rect x="479" y="511" width="1" height="14" fill="#000"/>
<rect x="478" y="512" width="3" height="14" fill="#111"/>
<rect x="479" y="513" width="1" height="12" fill="#955060"/>
<rect x="484" y="525" width="1" height="7" fill="#000"/>
<rect x="483" y="525" width="3" height="4" fill="#111"/>
<rect x="484" y="526" width="1" height="2" fill="#955060"/>
<rect x="489" y="512" width="1" height="14" fill="#000"/>
<rect x="488" y="512" width="3" height="15" fill="#111"/>
<rect x="489" y="513" width="1" height="13" fill="#457a6e"/>
<rect x="493" y="501" width="1" height="14" fill="#000"/>
<rect x="492" y="503" width="3" height="11" fill="#111"/>
<rect x="493" y="504" width="1" height="9" fill="#457a6e"/>
<rect x="498" y="499" width="1" height="9" fill="#000"/>
<rect x="497" y="502" width="3" height="3" fill="#111"/>
<rect x="498" y="503" width="1" height="1" fill="#457a6e"/>
<rect x="503" y="499" width="1" height="7" fill="#000"/>
<rect x="502" y="500" width="3" height="3" fill="#111"/>
<rect x="503" y="501" width="1" height="1" fill="#955060"/>
<rect x="508" y="502" width="1" height="12" fill="#000"/>
<rect x="507" y="502" width="3" height="13" fill="#111"/>
<rect x="508" y="503" width="1" height="11" fill="#955060"/>
<rect x="513" y="503" width="1" height="10" fill="#000"/>
<rect x="512" y="505" width="3" height="9" fill="#111"/>
<rect x="513" y="506" width="1" height="7" fill="#457a6e"/>
<rect x="517" y="502" width="1" height="5" fill="#000"/>
<rect x="516" y="502" width="3" height="5" fill="#111"/>
<rect x="517" y="503" width="1" height="3" fill="#457a6e"/>
<rect x="522" y="486" width="1" height="17" fill="#000"/>
<rect x="521" y="487" width="3" height="16" fill="#111"/>
<rect x="522" y="488" width="1" height="14" fill="#457a6e"/>
<rect x="527" y="477" width="1" height="23" fill="#000"/>
<rect x="526" y="487" width="3" height="14" fill="#111"/>
<rect x="527" y="488" width="1" height="12" fill="#955060"/>
<rect x="532" y="492" width="1" height="12" fill="#000"/>
<rect x="531" y="496" width="3" height="5" fill="#111"/>
<rect x="532" y="497" width="1" height="3" fill="#457a6e"/>
<rect x="537" y="488" width="1" height="10" fill="#000"/>
<rect x="536" y="491" width="3" height="7" fill="#111"/>
<rect x="537" y="492" width="1" height="5" fill="#457a6e"/>
<rect x="541" y="486" width="1" height="5" fill="#000"/>
<rect x="540" y="490" width="3" height="1.6" fill="#111"/>
<rect x="546" y="487" width="1" height="10" fill="#000"/>
<rect x="545" y="490" width="3" height="6" fill="#111"/>
<rect x="546" y="491" width="1" height="4" fill="#955060"/>
<rect x="551" y="491" width="1" height="7" fill="#000"/>
<rect x="550" y="492" width="3" height="1.6" fill="#111"/>
<rect x="556" y="492" width="1" height="8" fill="#000"/>
<rect x="555" y="493" width="3" height="6" fill="#111"/>
<rect x="556" y="494" width="1" height="4" fill="#955060"/>
<rect x="561" y="497" width="1" height="3" fill="#000"/>
<rect x="560" y="497" width="3" height="4" fill="#111"/>
<rect x="561" y="498" width="1" height="2" fill="#955060"/>
<rect x="565" y="488" width="1" height="10" fill="#000"/>
<rect x="564" y="493" width="3" height="6" fill="#111"/>
<rect x="565" y="494" width="1" height="4" fill="#457a6e"/>
<rect x="570" y="492" width="1" height="5" fill="#000"/>
<rect x="569" y="492" width="3" height="6" fill="#111"/>
<rect x="570" y="493" width="1" height="4" fill="#955060"/>
<rect x="575" y="494" width="1" height="9" fill="#000"/>
<rect x="574" y="496" width="3" height="3" fill="#111"/>
<rect x="575" y="497" width="1" height="1" fill="#955060"/>
<rect x="580" y="493" width="1" height="5" fill="#000"/>
<rect x="579" y="494" width="3" height="5" fill="#111"/>
<rect x="580" y="495" width="1" height="3" fill="#457a6e"/>
<rect x="585" y="486" width="1" height="11" fill="#000"/>
<rect x="584" y="486" width="3" height="10" fill="#111"/>
<rect x="585" y="487" width="1" height="8" fill="#457a6e"/>
<rect x="589" y="468" width="1" height="20" fill="#000"/>
<rect x="588" y="471" width="3" height="18" fill="#111"/>
<rect x="589" y="472" width="1" height="16" fill="#457a6e"/>
<rect x="594" y="469" width="1" height="7" fill="#000"/>
<rect x="593" y="471" width="3" height="6" fill="#111"/>
<rect x="594" y="472" width="1" height="4" fill="#955060"/>
<rect x="599" y="464" width="1" height="13" fill="#000"/>
<rect x="598" y="475" width="3" height="1.6" fill="#111"/>
<rect x="604" y="459" width="1" height="16" fill="#000"/>
<rect x="603" y="462" width="3" height="14" fill="#111"/>
<rect x="604" y="463" width="1" height="12" fill="#457a6e"/>
<rect x="609" y="443" width="1" height="17" fill="#000"/>
<rect x="608" y="444" width="3" height="17" fill="#111"/>
<rect x="609" y="445" width="1" height="15" fill="#457a6e"/>
<rect x="613" y="427" width="1" height="20" fill="#000"/>
<rect x="612" y="439" width="3" height="6" fill="#111"/>
<rect x="613" y="440" width="1" height="4" fill="#457a6e"/>
<rect x="618" y="429" width="1" height="15" fill="#000"/>
<rect x="617" y="433" width="3" height="9" fill="#111"/>
<rect x="618" y="434" width="1" height="7" fill="#457a6e"/>
<rect x="623" y="434" width="1" height="16" fill="#000"/>
<rect x="622" y="434" width="3" height="11" fill="#111"/>
<rect x="623" y="435" width="1" height="9" fill="#955060"/>
<rect x="628" y="442" width="1" height="12" fill="#000"/>
<rect x="627" y="444" width="3" height="7" fill="#111"/>
<rect x="628" y="445" width="1" height="5" fill="#955060"/>
<rect x="633" y="437" width="1" height="14" fill="#000"/>
<rect x="632" y="439" width="3" height="12" fill="#111"/>
<rect x="633" y="440" width="1" height="10" fill="#457a6e"/>
<rect x="637" y="430" width="1" height="14" fill="#000"/>
<rect x="636" y="431" width="3" height="10" fill="#111"/>
<rect x="637" y="432" width="1" height="8" fill="#457a6e"/>
<rect x="642" y="426" width="1" height="21" fill="#000"/>
<rect x="641" y="431" width="3" height="17" fill="#111"/>
<rect x="642" y="432" width="1" height="15" fill="#955060"/>
<rect x="647" y="438" width="1" height="7" fill="#000"/>
<rect x="646" y="445" width="3" height="1.6" fill="#111"/>
<rect x="652" y="434" width="1" height="17" fill="#000"/>
<rect x="651" y="444" width="3" height="6" fill="#111"/>
<rect x="652" y="445" width="1" height="4" fill="#955060"/>
<rect x="657" y="442" width="1" height="9" fill="#000"/>
<rect x="656" y="443" width="3" height="9" fill="#111"/>
<rect x="657" y="444" width="1" height="7" fill="#457a6e"/>
<rect x="661" y="438" width="1" height="10" fill="#000"/>
<rect x="660" y="444" width="3" height="4" fill="#111"/>
<rect x="661" y="445" width="1" height="2" fill="#457a6e"/>
<rect x="666" y="443" width="1" height="8" fill="#000"/>
<rect x="665" y="445" width="3" height="1.6" fill="#111"/>
<rect x="671" y="435" width="1" height="12" fill="#000"/>
<rect x="670" y="436" width="3" height="12" fill="#111"/>
<rect x="671" y="437" width="1" height="10" fill="#457a6e"/>
<rect x="676" y="430" width="1" height="12" fill="#000"/>
<rect x="675" y="431" width="3" height="6" fill="#111"/>
<rect x="676" y="432" width="1" height="4" fill="#457a6e"/>
<rect x="681" y="420" width="1" height="16" fill="#000"/>
<rect x="680" y="432" width="3" height="5" fill="#111"/>
<rect x="681" y="433" width="1" height="3" fill="#955060"/>
<rect x="685" y="429" width="1" height="13" fill="#000"/>
<rect x="684" y="434" width="3" height="5" fill="#111"/>
<rect x="685" y="435" width="1" height="3" fill="#955060"/>
<rect x="690" y="414" width="1" height="26" fill="#000"/>
<rect x="689" y="423" width="3" height="16" fill="#111"/>
<rect x="690" y="424" width="1" height="14" fill="#457a6e"/>
<rect x="695" y="418" width="1" height="15" fill="#000"/>
<rect x="694" y="420" width="3" height="5" fill="#111"/>
<rect x="695" y="421" width="1" height="3" fill="#955060"/>
<rect x="700" y="411" width="1" height="13" fill="#000"/>
<rect x="699" y="412" width="3" height="13" fill="#111"/>
<rect x="700" y="413" width="1" height="11" fill="#457a6e"/>
<rect x="705" y="406" width="1" height="11" fill="#000"/>
<rect x="704" y="411" width="3" height="1.6" fill="#111"/>
<rect x="709" y="407" width="1" height="7" fill="#000"/>
<rect x="708" y="411" width="3" height="3" fill="#111"/>
<rect x="709" y="412" width="1" height="1" fill="#955060"/>
<rect x="714" y="408" width="1" height="10" fill="#000"/>
<rect x="713" y="412" width="3" height="4" fill="#111"/>
<rect x="714" y="413" width="1" height="2" fill="#955060"/>
<rect x="719" y="400" width="1" height="15" fill="#000"/>
<rect x="718" y="400" width="3" height="16" fill="#111"/>
<rect x="719" y="401" width="1" height="14" fill="#457a6e"/>
<rect x="724" y="393" width="1" height="13" fill="#000"/>
<rect x="723" y="394" width="3" height="8" fill="#111"/>
<rect x="724" y="395" width="1" height="6" fill="#457a6e"/>
<rect x="729" y="383" width="1" height="12" fill="#000"/>
<rect x="728" y="390" width="3" height="6" fill="#111"/>
<rect x="729" y="391" width="1" height="4" fill="#457a6e"/>
<rect x="733" y="385" width="1" height="8" fill="#000"/>
<rect x="732" y="388" width="3" height="3" fill="#111"/>
<rect x="733" y="389" width="1" height="1" fill="#955060"/>
<rect x="738" y="388" width="1" height="9" fill="#000"/>
<rect x="737" y="389" width="3" height="1.6" fill="#111"/>
<rect x="743" y="378" width="1" height="13" fill="#000"/>
<rect x="742" y="379" width="3" height="12" fill="#111"/>
<rect x="743" y="380" width="1" height="10" fill="#457a6e"/>
<rect x="748" y="372" width="1" height="9" fill="#000"/>
<rect x="747" y="375" width="3" height="5" fill="#111"/>
<rect x="748" y="376" width="1" height="3" fill="#457a6e"/>
<rect x="753" y="367" width="1" height="11" fill="#000"/>
<rect x="752" y="376" width="3" height="1.6" fill="#111"/>
<rect x="757" y="375" width="1" height="17" fill="#000"/>
<rect x="756" y="377" width="3" height="10" fill="#111"/>
<rect x="757" y="378" width="1" height="8" fill="#955060"/>
<rect x="762" y="386" width="1" height="25" fill="#000"/>
<rect x="761" y="386" width="3" height="22" fill="#111"/>
<rect x="762" y="387" width="1" height="20" fill="#955060"/>
<rect x="767" y="381" width="1" height="26" fill="#000"/>
<rect x="766" y="382" width="3" height="26" fill="#111"/>
<rect x="767" y="383" width="1" height="24" fill="#457a6e"/>
<rect x="772" y="381" width="1" height="19" fill="#000"/>
<rect x="771" y="382" width="3" height="7" fill="#111"/>
<rect x="772" y="383" width="1" height="5" fill="#955060"/>
<rect x="777" y="388" width="1" height="7" fill="#000"/>
<rect x="776" y="389" width="3" height="4" fill="#111"/>
<rect x="777" y="390" width="1" height="2" fill="#955060"/>
<rect x="781" y="374" width="1" height="18" fill="#000"/>
<rect x="780" y="390" width="3" height="1.6" fill="#111"/>
<rect x="786" y="387" width="1" height="15" fill="#000"/>
<rect x="785" y="390" width="3" height="6" fill="#111"/>
<rect x="786" y="391" width="1" height="4" fill="#955060"/>
<rect x="791" y="392" width="1" height="4" fill="#000"/>
<rect x="790" y="396" width="3" height="1.6" fill="#111"/>
<rect x="796" y="388" width="1" height="12" fill="#000"/>
<rect x="795" y="392" width="3" height="5" fill="#111"/>
<rect x="796" y="393" width="1" height="3" fill="#457a6e"/>
<rect x="801" y="379" width="1" height="17" fill="#000"/>
<rect x="800" y="382" width="3" height="11" fill="#111"/>
<rect x="801" y="383" width="1" height="9" fill="#457a6e"/>
<rect x="805" y="375" width="1" height="13" fill="#000"/>
<rect x="804" y="376" width="3" height="7" fill="#111"/>
<rect x="805" y="377" width="1" height="5" fill="#457a6e"/>
<rect x="810" y="369" width="1" height="13" fill="#000"/>
<rect x="809" y="371" width="3" height="9" fill="#111"/>
<rect x="810" y="372" width="1" height="7" fill="#457a6e"/>
<rect x="815" y="358" width="1" height="21" fill="#000"/>
<rect x="814" y="362" width="3" height="10" fill="#111"/>
<rect x="815" y="363" width="1" height="8" fill="#457a6e"/>
<rect x="820" y="349" width="1" height="18" fill="#000"/>
<rect x="819" y="353" width="3" height="9" fill="#111"/>
<rect x="820" y="354" width="1" height="7" fill="#457a6e"/>
<rect x="825" y="339" width="1" height="15" fill="#000"/>
<rect x="824" y="351" width="3" height="4" fill="#111"/>
<rect x="825" y="352" width="1" height="2" fill="#457a6e"/>
<rect x="829" y="339" width="1" height="13" fill="#000"/>
<rect x="828" y="342" width="3" height="11" fill="#111"/>
<rect x="829" y="343" width="1" height="9" fill="#457a6e"/>
<rect x="834" y="338" width="1" height="23" fill="#000"/>
<rect x="833" y="342" width="3" height="19" fill="#111"/>
<rect x="834" y="343" width="1" height="17" fill="#955060"/>
<rect x="839" y="344" width="1" height="13" fill="#000"/>
<rect x="838" y="349" width="3" height="8" fill="#111"/>
<rect x="839" y="350" width="1" height="6" fill="#457a6e"/>
<rect x="844" y="331" width="1" height="23" fill="#000"/>
<rect x="843" y="334" width="3" height="15" fill="#111"/>
<rect x="844" y="335" width="1" height="13" fill="#457a6e"/>
<rect x="849" y="323" width="1" height="13" fill="#000"/>
<rect x="848" y="330" width="3" height="6" fill="#111"/>
<rect x="849" y="331" width="1" height="4" fill="#457a6e"/>
<rect x="853" y="313" width="1" height="20" fill="#000"/>
<rect x="852" y="315" width="3" height="15" fill="#111"/>
<rect x="853" y="316" width="1" height="13" fill="#457a6e"/>
<rect x="858" y="300" width="1" height="29" fill="#000"/>
<rect x="857" y="314" width="3" height="16" fill="#111"/>
<rect x="858" y="315" width="1" height="14" fill="#955060"/>
<rect x="863" y="291" width="1" height="48" fill="#000"/>
<rect x="862" y="293" width="3" height="34" fill="#111"/>
<rect x="863" y="294" width="1" height="32" fill="#457a6e"/>
<rect x="868" y="272" width="1" height="27" fill="#000"/>
<rect x="867" y="279" width="3" height="16" fill="#111"/>
<rect x="868" y="280" width="1" height="14" fill="#457a6e"/>
<rect x="873" y="248" width="1" height="40" fill="#000"/>
<rect x="872" y="276" width="3" height="10" fill="#111"/>
<rect x="873" y="277" width="1" height="8" fill="#955060"/>
<rect x="877" y="273" width="1" height="26" fill="#000"/>
<rect x="876" y="278" width="3" height="17" fill="#111"/>
<rect x="877" y="279" width="1" height="15" fill="#955060"/>
<rect x="882" y="259" width="1" height="35" fill="#000"/>
<rect x="881" y="276" width="3" height="19" fill="#111"/>
<rect x="882" y="277" width="1" height="17" fill="#457a6e"/>
<rect x="887" y="284" width="1" height="29" fill="#000"/>
<rect x="886" y="287" width="3" height="18" fill="#111"/>
<rect x="887" y="288" width="1" height="16" fill="#955060"/>
<rect x="892" y="272" width="1" height="27" fill="#000"/>
<rect x="891" y="272" width="3" height="27" fill="#111"/>
<rect x="892" y="273" width="1" height="25" fill="#457a6e"/>
<rect x="897" y="274" width="1" height="14" fill="#000"/>
<rect x="896" y="274" width="3" height="9" fill="#111"/>
<rect x="897" y="275" width="1" height="7" fill="#955060"/>
<rect x="901" y="262" width="1" height="19" fill="#000"/>
<rect x="900" y="276" width="3" height="6" fill="#111"/>
<rect x="901" y="277" width="1" height="4" fill="#457a6e"/>
<rect x="906" y="255" width="1" height="26" fill="#000"/>
<rect x="905" y="257" width="3" height="23" fill="#111"/>
<rect x="906" y="258" width="1" height="21" fill="#457a6e"/>
<rect x="911" y="254" width="1" height="20" fill="#000"/>
<rect x="910" y="254" width="3" height="17" fill="#111"/>
<rect x="911" y="255" width="1" height="15" fill="#955060"/>
<rect x="916" y="265" width="1" height="23" fill="#000"/>
<rect x="915" y="266" width="3" height="22" fill="#111"/>
<rect x="916" y="267" width="1" height="20" fill="#955060"/>
<rect x="921" y="271" width="1" height="21" fill="#000"/>
<rect x="920" y="276" width="3" height="12" fill="#111"/>
<rect x="921" y="277" width="1" height="10" fill="#457a6e"/>
<rect x="925" y="270" width="1" height="14" fill="#000"/>
<rect x="924" y="272" width="3" height="6" fill="#111"/>
<rect x="925" y="273" width="1" height="4" fill="#457a6e"/>
<rect x="930" y="269" width="1" height="12" fill="#000"/>
<rect x="929" y="271" width="3" height="5" fill="#111"/>
<rect x="930" y="272" width="1" height="3" fill="#955060"/>
<rect x="935" y="258" width="1" height="21" fill="#000"/>
<rect x="934" y="274" width="3" height="6" fill="#111"/>
<rect x="935" y="275" width="1" height="4" fill="#955060"/>
<rect x="940" y="264" width="1" height="20" fill="#000"/>
<rect x="939" y="266" width="3" height="16" fill="#111"/>
<rect x="940" y="267" width="1" height="14" fill="#457a6e"/>
<rect x="945" y="244" width="1" height="22" fill="#000"/>
<rect x="944" y="252" width="3" height="14" fill="#111"/>
<rect x="945" y="253" width="1" height="12" fill="#457a6e"/>
<rect x="949" y="256" width="1" height="14" fill="#000"/>
<rect x="948" y="257" width="3" height="14" fill="#111"/>
<rect x="949" y="258" width="1" height="12" fill="#955060"/>
<rect x="954" y="263" width="1" height="12" fill="#000"/>
<rect x="953" y="264" width="3" height="7" fill="#111"/>
<rect x="954" y="265" width="1" height="5" fill="#457a6e"/>
<rect x="959" y="247" width="1" height="20" fill="#000"/>
<rect x="958" y="247" width="3" height="19" fill="#111"/>
<rect x="959" y="248" width="1" height="17" fill="#457a6e"/>
<rect x="964" y="223" width="1" height="25" fill="#000"/>
<rect x="963" y="224" width="3" height="25" fill="#111"/>
<rect x="964" y="225" width="1" height="23" fill="#457a6e"/>
<rect x="969" y="215" width="1" height="15" fill="#000"/>
<rect x="968" y="219" width="3" height="10" fill="#111"/>
<rect x="969" y="220" width="1" height="8" fill="#457a6e"/>
<rect x="973" y="210" width="1" height="13" fill="#000"/>
<rect x="972" y="215" width="3" height="7" fill="#111"/>
<rect x="973" y="216" width="1" height="5" fill="#457a6e"/>
<rect x="978" y="195" width="1" height="19" fill="#000"/>
<rect x="977" y="199" width="3" height="15" fill="#111"/>
<rect x="978" y="200" width="1" height="13" fill="#457a6e"/>
<rect x="983" y="179" width="1" height="23" fill="#000"/>
<rect x="982" y="181" width="3" height="21" fill="#111"/>
<rect x="983" y="182" width="1" height="19" fill="#457a6e"/>
<rect x="988" y="152" width="1" height="30" fill="#000"/>
<rect x="987" y="166" width="3" height="16" fill="#111"/>
<rect x="988" y="167" width="1" height="14" fill="#457a6e"/>
<rect x="993" y="100" width="1" height="63" fill="#000"/>
<rect x="992" y="130" width="3" height="34" fill="#111"/>
<rect x="993" y="131" width="1" height="32" fill="#457a6e"/>
<rect x="997" y="99" width="1" height="62" fill="#000"/>
<rect x="996" y="121" width="3" height="23" fill="#111"/>
<rect x="997" y="122" width="1" height="21" fill="#955060"/>
<rect x="1002" y="145" width="1" height="37" fill="#000"/>
<rect x="1001" y="149" width="3" height="11" fill="#111"/>
<rect x="1002" y="150" width="1" height="9" fill="#955060"/>
<g transform="translate(62.0,600.25)"><circle r="9.5" fill="#fcf7ff" fill-opacity="0.85" stroke="#4e2cb0" stroke-width="1.6"/><path d="M-4.9,-3.5 L-0.3,0 H6.3 M2.7,-2.7 L6.3,0 L2.7,3.5 M-5.4,4.6 L-2.5,2.2" fill="none" stroke="#5530c0" stroke-width="1.5" stroke-linecap="round" stroke-linejoin="round"/></g>
<g transform="translate(105.7,600.25)"><circle r="9.5" fill="#fcf7ff" fill-opacity="0.85" stroke="#4e2cb0" stroke-width="1.6"/><path d="M-4.9,-3.5 L-0.3,0 H6.3 M2.7,-2.7 L6.3,0 L2.7,3.5 M-5.4,4.6 L-2.5,2.2" fill="none" stroke="#5530c0" stroke-width="1.5" stroke-linecap="round" stroke-linejoin="round"/></g>
<g transform="translate(143.0,600.25)"><circle r="9.5" fill="#fcf7ff" fill-opacity="0.85" stroke="#4e2cb0" stroke-width="1.6"/><path d="M-4.9,-3.5 L-0.3,0 H6.3 M2.7,-2.7 L6.3,0 L2.7,3.5 M-5.4,4.6 L-2.5,2.2" fill="none" stroke="#5530c0" stroke-width="1.5" stroke-linecap="round" stroke-linejoin="round"/></g>
<g transform="translate(186.4,600.25)"><circle r="9.5" fill="#fcf7ff" fill-opacity="0.85" stroke="#4e2cb0" stroke-width="1.6"/><path d="M-4.9,-3.5 L-0.3,0 H6.3 M2.7,-2.7 L6.3,0 L2.7,3.5 M-5.4,4.6 L-2.5,2.2" fill="none" stroke="#5530c0" stroke-width="1.5" stroke-linecap="round" stroke-linejoin="round"/></g>
<g transform="translate(273.4,600.25)"><circle r="9.5" fill="#fcf7ff" fill-opacity="0.85" stroke="#4e2cb0" stroke-width="1.6"/><path d="M-4.9,-3.5 L-0.3,0 H6.3 M2.7,-2.7 L6.3,0 L2.7,3.5 M-5.4,4.6 L-2.5,2.2" fill="none" stroke="#5530c0" stroke-width="1.5" stroke-linecap="round" stroke-linejoin="round"/></g>
<g transform="translate(316.9,600.25)"><circle r="9.5" fill="#fcf7ff" fill-opacity="0.85" stroke="#4e2cb0" stroke-width="1.6"/><path d="M-4.9,-3.5 L-0.3,0 H6.3 M2.7,-2.7 L6.3,0 L2.7,3.5 M-5.4,4.6 L-2.5,2.2" fill="none" stroke="#5530c0" stroke-width="1.5" stroke-linecap="round" stroke-linejoin="round"/></g>
<g transform="translate(354.0,600.25)"><circle r="9.5" fill="#fcf7ff" fill-opacity="0.85" stroke="#4e2cb0" stroke-width="1.6"/><path d="M-4.9,-3.5 L-0.3,0 H6.3 M2.7,-2.7 L6.3,0 L2.7,3.5 M-5.4,4.6 L-2.5,2.2" fill="none" stroke="#5530c0" stroke-width="1.5" stroke-linecap="round" stroke-linejoin="round"/></g>
<g transform="translate(397.6,600.25)"><circle r="9.5" fill="#fcf7ff" fill-opacity="0.85" stroke="#4e2cb0" stroke-width="1.6"/><path d="M-4.9,-3.5 L-0.3,0 H6.3 M2.7,-2.7 L6.3,0 L2.7,3.5 M-5.4,4.6 L-2.5,2.2" fill="none" stroke="#5530c0" stroke-width="1.5" stroke-linecap="round" stroke-linejoin="round"/></g>
<g transform="translate(436.4,600.25)"><circle r="9.5" fill="#fcf7ff" fill-opacity="0.85" stroke="#4e2cb0" stroke-width="1.6"/><path d="M-4.9,-3.5 L-0.3,0 H6.3 M2.7,-2.7 L6.3,0 L2.7,3.5 M-5.4,4.6 L-2.5,2.2" fill="none" stroke="#5530c0" stroke-width="1.5" stroke-linecap="round" stroke-linejoin="round"/></g>
<g transform="translate(522.1,600.25)"><circle r="9.5" fill="#fcf7ff" fill-opacity="0.85" stroke="#4e2cb0" stroke-width="1.6"/><path d="M-4.9,-3.5 L-0.3,0 H6.3 M2.7,-2.7 L6.3,0 L2.7,3.5 M-5.4,4.6 L-2.5,2.2" fill="none" stroke="#5530c0" stroke-width="1.5" stroke-linecap="round" stroke-linejoin="round"/></g>
<g transform="translate(566.2,600.25)"><circle r="9.5" fill="#fcf7ff" fill-opacity="0.85" stroke="#4e2cb0" stroke-width="1.6"/><path d="M-4.9,-3.5 L-0.3,0 H6.3 M2.7,-2.7 L6.3,0 L2.7,3.5 M-5.4,4.6 L-2.5,2.2" fill="none" stroke="#5530c0" stroke-width="1.5" stroke-linecap="round" stroke-linejoin="round"/></g>
<g transform="translate(604.4,600.25)"><circle r="9.5" fill="#fcf7ff" fill-opacity="0.85" stroke="#4e2cb0" stroke-width="1.6"/><path d="M-4.9,-3.5 L-0.3,0 H6.3 M2.7,-2.7 L6.3,0 L2.7,3.5 M-5.4,4.6 L-2.5,2.2" fill="none" stroke="#5530c0" stroke-width="1.5" stroke-linecap="round" stroke-linejoin="round"/></g>
<g transform="translate(647.6,600.25)"><circle r="9.5" fill="#fcf7ff" fill-opacity="0.85" stroke="#4e2cb0" stroke-width="1.6"/><path d="M-4.9,-3.5 L-0.3,0 H6.3 M2.7,-2.7 L6.3,0 L2.7,3.5 M-5.4,4.6 L-2.5,2.2" fill="none" stroke="#5530c0" stroke-width="1.5" stroke-linecap="round" stroke-linejoin="round"/></g>
<g transform="translate(690.5,600.25)"><circle r="9.5" fill="#fcf7ff" fill-opacity="0.85" stroke="#4e2cb0" stroke-width="1.6"/><path d="M-4.9,-3.5 L-0.3,0 H6.3 M2.7,-2.7 L6.3,0 L2.7,3.5 M-5.4,4.6 L-2.5,2.2" fill="none" stroke="#5530c0" stroke-width="1.5" stroke-linecap="round" stroke-linejoin="round"/></g>
<g transform="translate(772.5,600.25)"><circle r="9.5" fill="#fcf7ff" fill-opacity="0.85" stroke="#4e2cb0" stroke-width="1.6"/><path d="M-4.9,-3.5 L-0.3,0 H6.3 M2.7,-2.7 L6.3,0 L2.7,3.5 M-5.4,4.6 L-2.5,2.2" fill="none" stroke="#5530c0" stroke-width="1.5" stroke-linecap="round" stroke-linejoin="round"/></g>
<g transform="translate(815.3,600.25)"><circle r="9.5" fill="#fcf7ff" fill-opacity="0.85" stroke="#4e2cb0" stroke-width="1.6"/><path d="M-4.9,-3.5 L-0.3,0 H6.3 M2.7,-2.7 L6.3,0 L2.7,3.5 M-5.4,4.6 L-2.5,2.2" fill="none" stroke="#5530c0" stroke-width="1.5" stroke-linecap="round" stroke-linejoin="round"/></g>
<g transform="translate(853.5,600.25)"><circle r="9.5" fill="#fcf7ff" fill-opacity="0.85" stroke="#4e2cb0" stroke-width="1.6"/><path d="M-4.9,-3.5 L-0.3,0 H6.3 M2.7,-2.7 L6.3,0 L2.7,3.5 M-5.4,4.6 L-2.5,2.2" fill="none" stroke="#5530c0" stroke-width="1.5" stroke-linecap="round" stroke-linejoin="round"/></g>
<g transform="translate(897.5,600.25)"><circle r="9.5" fill="#fcf7ff" fill-opacity="0.85" stroke="#4e2cb0" stroke-width="1.6"/><path d="M-4.9,-3.5 L-0.3,0 H6.3 M2.7,-2.7 L6.3,0 L2.7,3.5 M-5.4,4.6 L-2.5,2.2" fill="none" stroke="#5530c0" stroke-width="1.5" stroke-linecap="round" stroke-linejoin="round"/></g>
<g transform="translate(940.3,600.25)"><circle r="9.5" fill="#fcf7ff" fill-opacity="0.85" stroke="#4e2cb0" stroke-width="1.6"/><path d="M-4.9,-3.5 L-0.3,0 H6.3 M2.7,-2.7 L6.3,0 L2.7,3.5 M-5.4,4.6 L-2.5,2.2" fill="none" stroke="#5530c0" stroke-width="1.5" stroke-linecap="round" stroke-linejoin="round"/></g>
<g transform="translate(1022.6,600.25)"><circle r="9.5" fill="#fcf7ff" fill-opacity="0.85" stroke="#4e2cb0" stroke-width="1.6"/><path d="M-4.9,-3.5 L-0.3,0 H6.3 M2.7,-2.7 L6.3,0 L2.7,3.5 M-5.4,4.6 L-2.5,2.2" fill="none" stroke="#5530c0" stroke-width="1.5" stroke-linecap="round" stroke-linejoin="round"/></g>
<g transform="translate(1065.8,600.25)"><circle r="9.5" fill="#fcf7ff" fill-opacity="0.85" stroke="#4e2cb0" stroke-width="1.6"/><path d="M-4.9,-3.5 L-0.3,0 H6.3 M2.7,-2.7 L6.3,0 L2.7,3.5 M-5.4,4.6 L-2.5,2.2" fill="none" stroke="#5530c0" stroke-width="1.5" stroke-linecap="round" stroke-linejoin="round"/></g>
<g transform="translate(1108.6,600.25)"><circle r="9.5" fill="#fcf7ff" fill-opacity="0.85" stroke="#4e2cb0" stroke-width="1.6"/><path d="M-4.9,-3.5 L-0.3,0 H6.3 M2.7,-2.7 L6.3,0 L2.7,3.5 M-5.4,4.6 L-2.5,2.2" fill="none" stroke="#5530c0" stroke-width="1.5" stroke-linecap="round" stroke-linejoin="round"/></g>
<g transform="translate(1147.5,600.25)"><circle r="9.5" fill="#fcf7ff" fill-opacity="0.85" stroke="#4e2cb0" stroke-width="1.6"/><path d="M-4.9,-3.5 L-0.3,0 H6.3 M2.7,-2.7 L6.3,0 L2.7,3.5 M-5.4,4.6 L-2.5,2.2" fill="none" stroke="#5530c0" stroke-width="1.5" stroke-linecap="round" stroke-linejoin="round"/></g>
<g transform="translate(1003,600.25)"><circle r="9.5" fill="#fbeef8" stroke="#4e2cb0" stroke-width="1.6"/><path d="M2.5,-6.5 L-3.8,1.2 H0.3 L-2.5,6.5 L3.8,-1.2 H-0.3 Z" fill="#5530c0"/></g>
</g>

<!-- legend -->
<rect x="64" y="49.3" width="39.5" height="17.4" rx="8.7" fill="#fff3e0"/>
<path d="M72.7,49.3 H82.5 V66.7 H72.7 A8.7,8.7 0 0 1 72.7,49.3 Z" fill="#dcf2ee"/>
<circle cx="75" cy="58.2" r="4" fill="#22997a"/>
<text x="89.4" y="62.8" font-size="12.5" fill="#f0a035">D</text>
<g font-size="13" fill="#131722">
 <text x="112" y="63" textLength="53.5" lengthAdjust="spacingAndGlyphs">O4,103.2</text>
 <text x="171.7" y="63" textLength="53" lengthAdjust="spacingAndGlyphs">H4,123.8</text>
 <text x="231.2" y="63" textLength="50.3" lengthAdjust="spacingAndGlyphs">L3,901.3</text>
 <text x="287.8" y="63" textLength="52.5" lengthAdjust="spacingAndGlyphs">C4,039.4</text>
 <text x="346.5" y="63" textLength="32" lengthAdjust="spacingAndGlyphs">−98.4</text><text x="383.5" y="63" textLength="46.5" lengthAdjust="spacingAndGlyphs">(−2.38%)</text>
</g>
<g font-size="13">
 <text x="65.6" y="87" fill="#131722" textLength="23.8" lengthAdjust="spacingAndGlyphs">EMA</text><text x="97.1" y="87" fill="#4a72c0" textLength="43.8" lengthAdjust="spacingAndGlyphs">2,526.0</text>
 <text x="65.6" y="111" fill="#131722" textLength="23.8" lengthAdjust="spacingAndGlyphs">EMA</text><text x="97.1" y="111" fill="#d05a64" textLength="43.3" lengthAdjust="spacingAndGlyphs">3,318.3</text>
</g>
<rect x="60" y="122" width="80" height="16" fill="#fff" opacity="0.55"/>
<g font-size="13"><text x="65.6" y="135" fill="#131722" opacity="0.9" textLength="16.3" lengthAdjust="spacingAndGlyphs">Vol</text><text x="90.9" y="135" fill="#d86a72" opacity="0.8" textLength="41.3" lengthAdjust="spacingAndGlyphs">778.2 K</text></g>
<rect x="64.5" y="145.5" width="28" height="19.5" rx="3" fill="#fff" stroke="#e0e3eb"/>
<path d="M74.5,157.5 L78.5,153.5 L82.5,157.5" fill="none" stroke="#131722" stroke-width="1.5"/>

<!-- TradingView logo -->
<rect x="64" y="581" width="166" height="24" rx="4" fill="#fff" opacity="0.35"/>
<g fill="#131722" stroke="#fff" stroke-width="3" stroke-opacity="0.8" paint-order="stroke" stroke-linejoin="round">
 <path d="M68,584.2 H79.6 V598.6 H74 V589.8 H68 Z"/>
 <circle cx="84.9" cy="587" r="2.8"/>
 <path d="M91.3,584.2 H97.6 L91.6,598.6 H85.3 Z"/>
 <text x="105.5" y="598.5" font-size="20.4" font-weight="700" textLength="120.2" lengthAdjust="spacingAndGlyphs">TradingView</text>
</g>

<!-- price axis -->
<g font-size="12" fill="#131722" text-anchor="end">
 <text x="1228.6" y="68.8">4,600.0</text>
 <text x="1228.6" y="101.9">4,400.0</text>
 <text x="1228.6" y="203.0">3,800.0</text>
 <text x="1228.6" y="236.7">3,600.0</text>
 <text x="1228.6" y="270.3">3,400.0</text>
 <text x="1228.6" y="304.0">3,200.0</text>
 <text x="1228.6" y="337.6">3,000.0</text>
 <text x="1228.6" y="371.2">2,800.0</text>
 <text x="1228.6" y="404.9">2,600.0</text>
 <text x="1228.6" y="438.5">2,400.0</text>
 <text x="1228.6" y="472.1">2,200.0</text>
 <text x="1228.6" y="505.8">2,000.0</text>
 <text x="1228.6" y="539.4">1,800.0</text>
 <text x="1228.6" y="573.0">1,600.0</text>
 <text x="1228.6" y="606.7">1,400.0</text>
</g>
<rect x="1180" y="124.2" width="53.3" height="16.4" rx="2" fill="#2962ff"/>
<rect x="1180" y="182.4" width="53.3" height="15.8" rx="2" fill="#2962ff"/>
<rect x="1180" y="151" width="53.3" height="30.6" rx="2" fill="#e8394a"/>
<rect x="1123.3" y="151" width="55.4" height="16.7" rx="2" fill="#e8394a"/>
<rect x="1180" y="272.5" width="53.3" height="16" rx="2" fill="#e8394a"/>
<rect x="1180" y="405.5" width="53.3" height="16" rx="2" fill="#2962ff"/>
<rect x="1180" y="549.5" width="52" height="16" rx="2" fill="#ea5a62"/>
<g font-size="12" fill="#fff" stroke="#fff" stroke-width="0.35" text-anchor="end">
 <text x="1229" y="136.5" textLength="40.8" lengthAdjust="spacingAndGlyphs">4,200.0</text>
 <text x="1229" y="163.6" textLength="40.8" lengthAdjust="spacingAndGlyphs">4,039.4</text>
 <text x="1175" y="163.6" textLength="46.8" lengthAdjust="spacingAndGlyphs">GCZ2025</text>
 <text x="1229" y="194.5" textLength="40.8" lengthAdjust="spacingAndGlyphs">4,000.0</text>
 <text x="1229" y="284.6" textLength="40.8" lengthAdjust="spacingAndGlyphs">3,318.3</text>
 <text x="1229" y="417.6" textLength="40.8" lengthAdjust="spacingAndGlyphs">2,526.0</text>
 <text x="1229" y="561.3" textLength="41" lengthAdjust="spacingAndGlyphs">778.2 K</text>
</g>
<text x="1188.4" y="177" font-size="12" fill="#fff" stroke="#fff" stroke-width="0.3" opacity="0.85" textLength="29.3" lengthAdjust="spacingAndGlyphs">2d 9h</text>

<!-- time axis -->
<g font-size="12" fill="#131722" text-anchor="middle">
 <text x="172" y="631.2">Jul</text>
 <text x="297" y="631.2" font-weight="700">2023</text>
 <text x="421.5" y="631.2">Jul</text>
 <text x="546.5" y="631.2" font-weight="700">2024</text>
 <text x="671" y="631.2">Jul</text>
 <text x="801" y="631.2" font-weight="700">2025</text>
 <text x="925.5" y="631.2">Jul</text>
 <text x="1050.5" y="631.2" font-weight="700">2026</text>
 <text x="1173.5" y="631.2">Ju</text>
</g>
<path d="M1201.8,627.8 L1205.5,622 H1213 L1216.7,627.8 L1213,633.6 H1205.5 Z" fill="none" stroke="#131722" stroke-width="1.1" stroke-linejoin="round"/>
<circle cx="1209.3" cy="627.8" r="2.5" fill="none" stroke="#131722" stroke-width="1.1"/>
<path d="M56,641.5 H1239" stroke="#e0e3eb"/>

<!-- range bar -->
<g font-size="13" fill="#131722">
 <text x="70" y="666.4" textLength="15.8" lengthAdjust="spacingAndGlyphs">1D</text>
 <text x="98.3" y="666.4" textLength="15.7" lengthAdjust="spacingAndGlyphs">5D</text>
 <text x="126.5" y="666.4" textLength="17" lengthAdjust="spacingAndGlyphs">1M</text>
 <text x="155.5" y="666.4" textLength="17.5" lengthAdjust="spacingAndGlyphs">3M</text>
 <text x="184.7" y="666.4" textLength="17.6" lengthAdjust="spacingAndGlyphs">6M</text>
 <text x="213.7" y="666.4" textLength="25.2" lengthAdjust="spacingAndGlyphs">YTD</text>
 <text x="250.9" y="666.4" textLength="15.7" lengthAdjust="spacingAndGlyphs">1Y</text>
 <text x="277.8" y="666.4" textLength="15.5" lengthAdjust="spacingAndGlyphs">5Y</text>
 <text x="304.7" y="666.4" textLength="17" lengthAdjust="spacingAndGlyphs">All</text>
 <text x="1053.7" y="665.6" textLength="83.2" lengthAdjust="spacingAndGlyphs">12:26:38 UTC</text>
 <text x="1158.8" y="665.6" textLength="35.5" lengthAdjust="spacingAndGlyphs">B-ADJ</text>
</g>
<path d="M332.5,650 V671 M1147.5,650 V671" stroke="#e0e3eb"/>
<g fill="none" stroke="#131722" stroke-width="1.1">
 <path d="M350,667.5 H360 A3,3 0 0 0 363,664.5 V656 A3,3 0 0 0 360,653 H350 A3,3 0 0 0 347,656 V660 M347,656.5 H363 M351,651.5 V654.5 M359,651.5 V654.5 M345.5,664 H353 M350.5,661.5 L353,664 L350.5,666.5"/>
</g>
<rect x="1203" y="644.3" width="29.5" height="33" rx="6" fill="#ebebeb"/>
<text x="1207" y="665.6" font-size="13" fill="#131722" textLength="22" lengthAdjust="spacingAndGlyphs">SET</text>

<!-- bottom panel -->
<g font-size="14" fill="#131722">
 <text x="72.1" y="707.7" textLength="68" lengthAdjust="spacingAndGlyphs">Pine Editor</text>
 <text x="173" y="707.7" textLength="83.6" lengthAdjust="spacingAndGlyphs">Trading Panel</text>
</g>
<g fill="none" stroke="#131722" stroke-width="1.2">
 <path d="M1176,705.2 L1184.6,698.2 L1193.3,705.2"/>
 <path d="M1212.5,700 V697.5 A2.5,2.5 0 0 1 1215,695 H1225.5 A2.5,2.5 0 0 1 1228,697.5 V700 M1228,705.5 V708 A2.5,2.5 0 0 1 1225.5,710.5 H1215 A2.5,2.5 0 0 1 1212.5,708 V705.5"/>
</g>
<!-- mouse cursor -->
<path d="M1109,716 V728 L1112,725 L1115,731 L1117,730 L1114,724 H1118 Z" fill="#fff" stroke="#131722" stroke-width="1"/>
</svg>
</body></html>
